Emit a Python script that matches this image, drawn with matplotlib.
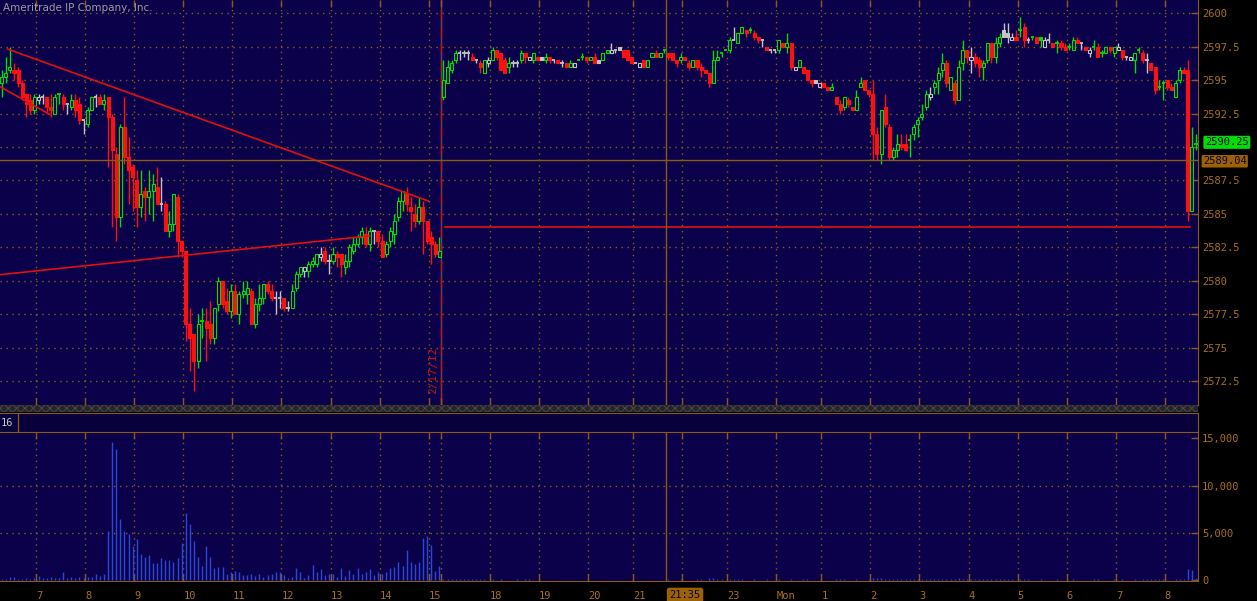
import numpy as np
import matplotlib.pyplot as plt
from matplotlib.patches import Rectangle

# ---- Friday 2/17/12, 5 min bars ----
fri_open = [2594.75, 2595.25, 2595.75, 2595.75, 2595.75, 2594.75, 2594.0, 2593.5, 2592.75, 2593.5,
            2593.75, 2593.75, 2593.0, 2592.5, 2594.0, 2593.75, 2593.25, 2593.0, 2593.5, 2593.25,
            2592.0, 2591.75, 2592.75, 2593.75, 2593.75, 2593.25, 2593.75, 2592.25, 2589.5, 2584.75,
            2591.5, 2589.25, 2588.5, 2587.5, 2585.5, 2586.75, 2586.25, 2586.75, 2587.0, 2585.75,
            2585.75, 2583.75, 2584.25, 2586.25, 2583.0, 2582.25, 2576.75, 2576.0, 2574.0, 2577.0,
            2577.0, 2576.75, 2575.75, 2578.25, 2580.0, 2578.5, 2577.75, 2579.25, 2577.5, 2579.0,
            2579.0, 2579.25, 2576.75, 2578.25, 2578.75, 2579.75, 2579.25, 2578.75, 2578.75, 2578.75,
            2578.0, 2578.0, 2579.5, 2580.5, 2580.75, 2580.75, 2581.25, 2581.25, 2581.75, 2582.25,
            2581.5, 2581.5, 2582.0, 2582.0, 2581.0, 2581.5, 2582.25, 2582.75, 2583.25, 2583.5,
            2582.75, 2583.75, 2583.75, 2583.0, 2582.0, 2583.0, 2583.5, 2584.75, 2586.0, 2586.5,
            2585.5, 2585.0, 2584.5, 2585.5, 2584.5, 2583.25, 2582.75, 2581.75]
fri_high = [2595.75, 2596.75, 2597.5, 2596.25, 2596.0, 2595.0, 2594.0, 2594.0, 2594.0, 2594.0,
            2594.0, 2593.75, 2594.0, 2594.0, 2594.0, 2594.0, 2593.25, 2594.0, 2594.0, 2593.75,
            2592.0, 2593.0, 2593.75, 2594.0, 2594.0, 2594.0, 2593.75, 2592.5, 2590.0, 2591.75,
            2593.75, 2590.75, 2588.75, 2588.25, 2588.25, 2587.0, 2588.25, 2588.0, 2588.5, 2587.75,
            2586.0, 2585.25, 2586.5, 2586.5, 2583.0, 2582.25, 2578.0, 2576.0, 2577.5, 2578.0,
            2578.0, 2578.5, 2578.0, 2580.25, 2580.0, 2579.5, 2579.75, 2579.75, 2579.25, 2580.0,
            2580.0, 2579.5, 2578.75, 2579.75, 2579.75, 2580.0, 2579.75, 2579.25, 2579.25, 2578.75,
            2578.5, 2579.75, 2580.75, 2581.0, 2581.0, 2581.5, 2581.75, 2582.0, 2582.5, 2582.5,
            2582.0, 2582.5, 2582.25, 2582.0, 2582.0, 2582.75, 2583.25, 2583.5, 2584.0, 2584.0,
            2584.0, 2583.75, 2583.75, 2583.5, 2583.0, 2584.0, 2585.0, 2586.25, 2586.75, 2587.0,
            2586.25, 2585.75, 2586.25, 2586.0, 2584.5, 2583.75, 2583.0, 2583.25]
fri_low = [2593.75, 2594.75, 2595.5, 2595.0, 2594.5, 2593.5, 2592.25, 2592.5, 2592.5, 2593.25,
           2593.25, 2592.5, 2592.25, 2592.5, 2593.25, 2592.75, 2592.5, 2592.75, 2592.25, 2591.75,
           2591.0, 2591.5, 2592.75, 2593.0, 2593.25, 2592.75, 2588.5, 2584.0, 2583.0, 2584.0,
           2588.75, 2585.75, 2585.25, 2584.0, 2584.75, 2584.5, 2585.0, 2584.5, 2585.75, 2585.25,
           2583.75, 2583.25, 2583.75, 2581.75, 2581.75, 2575.5, 2573.25, 2571.75, 2573.5, 2575.75,
           2574.0, 2575.25, 2575.25, 2577.75, 2578.0, 2577.5, 2577.25, 2577.5, 2576.75, 2578.75,
           2578.25, 2576.75, 2576.5, 2577.75, 2578.25, 2579.0, 2578.5, 2577.5, 2578.0, 2577.75,
           2577.75, 2578.0, 2579.25, 2580.25, 2580.25, 2580.25, 2581.0, 2581.0, 2581.5, 2581.25,
           2580.5, 2581.25, 2581.0, 2580.25, 2580.5, 2581.0, 2582.0, 2582.5, 2582.75, 2582.5,
           2582.25, 2582.75, 2582.5, 2581.75, 2581.75, 2582.5, 2582.75, 2584.5, 2585.25, 2585.25,
           2583.75, 2584.0, 2584.25, 2582.0, 2582.75, 2581.25, 2581.75, 2581.75]
fri_close = [2595.25, 2595.5, 2596.0, 2595.5, 2594.75, 2593.75, 2593.25, 2592.75, 2593.75, 2593.75,
             2593.75, 2593.0, 2592.75, 2593.75, 2594.0, 2593.25, 2593.25, 2593.5, 2592.75, 2592.0,
             2592.0, 2592.75, 2593.75, 2593.75, 2593.25, 2593.5, 2592.25, 2589.75, 2584.75, 2591.5,
             2589.25, 2588.25, 2587.75, 2585.5, 2586.5, 2586.25, 2586.75, 2587.25, 2585.75, 2585.75,
             2583.75, 2584.25, 2586.5, 2583.0, 2582.25, 2576.75, 2575.75, 2574.0, 2576.75, 2577.0,
             2576.5, 2575.75, 2578.0, 2580.0, 2578.25, 2577.75, 2579.25, 2577.5, 2579.0, 2579.25,
             2579.5, 2576.75, 2578.25, 2578.75, 2579.75, 2579.25, 2578.75, 2578.75, 2578.75, 2578.0,
             2578.0, 2579.25, 2580.5, 2581.0, 2581.0, 2581.25, 2581.5, 2582.0, 2582.0, 2581.5,
             2581.5, 2582.0, 2581.75, 2581.25, 2581.5, 2582.5, 2582.75, 2583.25, 2583.75, 2582.75,
             2583.75, 2583.75, 2583.0, 2581.75, 2582.75, 2583.75, 2584.5, 2586.0, 2586.75, 2585.75,
             2585.25, 2584.5, 2585.5, 2584.5, 2583.0, 2582.75, 2582.0, 2582.25]
fri_volume = [150, 150, 300, 350, 150, 100, 250, 150, 250, 470,
              250, 250, 350, 200, 250, 900, 250, 350, 250, 350,
              250, 300, 350, 690, 470, 690, 5240, 14580, 13810, 6510,
              5240, 4820, 3550, 4290, 2800, 2490, 2600, 1850, 1850, 2380,
              2170, 2170, 1960, 2380, 3970, 7140, 5980, 4080, 2490, 1530,
              3650, 2490, 1320, 1430, 1430, 690, 800, 1010, 800, 580,
              580, 690, 470, 690, 350, 580, 690, 800, 800, 580,
              250, 350, 1320, 900, 250, 580, 1640, 800, 1220, 580,
              690, 690, 350, 1320, 470, 1110, 690, 1320, 690, 900,
              1220, 580, 900, 690, 800, 1320, 1430, 1960, 1530, 3130,
              1960, 1750, 1960, 4500, 4610, 3760, 1010, 1530]

# ---- Sunday night / Monday session ----
sun_open = [2593.75, 2594.75, 2595.75, 2596.5, 2597.0, 2597.0, 2597.0, 2596.75, 2596.5, 2596.25,
            2595.5, 2596.25, 2596.5, 2597.25, 2597.0, 2596.5, 2596.0, 2596.25, 2596.25, 2596.5,
            2597.0, 2596.5, 2596.5, 2596.75, 2596.75, 2596.5, 2596.75, 2596.5, 2596.5, 2596.25,
            2596.25, 2596.0, 2596.0, 2596.5, 2596.75, 2596.75, 2596.5, 2596.75, 2596.5, 2596.5,
            2597.0, 2597.0, 2597.25, 2597.5, 2597.25, 2597.25, 2596.75, 2596.25, 2596.0, 2596.5,
            2596.0, 2596.75, 2597.0, 2596.75, 2597.25, 2597.0, 2597.0, 2596.5, 2596.5, 2596.75,
            2596.25, 2596.0, 2596.5, 2596.0, 2595.75, 2595.5, 2594.75, 2596.5, 2597.0, 2597.25,
            2597.25, 2598.0, 2597.75, 2598.5, 2598.75, 2598.75, 2598.5, 2598.25, 2598.0, 2597.5,
            2597.25, 2597.25, 2597.25, 2597.75, 2597.5, 2597.75, 2595.75, 2596.0, 2596.0, 2595.75,
            2595.0, 2595.0, 2594.5, 2594.75, 2594.5, 2594.25, 2593.75, 2593.25, 2593.0, 2593.5,
            2593.0, 2592.75, 2594.5, 2595.0, 2594.25, 2594.0, 2591.0, 2589.5, 2593.0, 2591.5,
            2589.25, 2589.75, 2590.25, 2590.25, 2590.5, 2591.0, 2591.75, 2592.25, 2593.0, 2593.75,
            2594.5, 2595.0, 2595.75, 2596.25, 2594.25, 2594.75, 2593.5, 2596.25, 2597.25, 2596.5,
            2596.75, 2596.5, 2596.0, 2596.5, 2597.75, 2596.75, 2597.75, 2598.75, 2598.5, 2598.0,
            2598.25, 2598.75, 2599.0, 2598.0, 2598.25, 2598.25, 2598.25, 2597.5, 2598.0, 2597.75,
            2597.75, 2597.75, 2597.5, 2597.5, 2597.25, 2598.0, 2597.75, 2597.5, 2597.0, 2597.5,
            2597.5, 2597.0, 2597.0, 2597.5, 2597.0, 2597.25, 2597.25, 2596.75, 2596.5, 2596.5,
            2597.25, 2597.0, 2596.5, 2596.25, 2596.0, 2594.5, 2594.75, 2595.0, 2594.5, 2593.75,
            2595.0, 2595.75, 2595.75, 2585.25, 2590.25]
sun_high = [2596.5, 2596.5, 2596.5, 2597.25, 2597.25, 2597.25, 2597.25, 2597.0, 2596.5, 2596.5,
            2596.5, 2596.75, 2597.5, 2597.25, 2597.0, 2596.75, 2596.75, 2596.5, 2596.5, 2597.25,
            2597.0, 2596.75, 2597.0, 2596.75, 2596.75, 2597.0, 2596.75, 2596.5, 2596.5, 2596.5,
            2596.25, 2596.5, 2596.25, 2596.5, 2597.0, 2596.75, 2596.75, 2597.0, 2596.5, 2597.0,
            2597.25, 2597.75, 2597.25, 2597.5, 2597.25, 2597.25, 2596.75, 2596.25, 2596.25, 2596.5,
            2596.5, 2597.0, 2597.25, 2597.0, 2597.25, 2597.0, 2597.0, 2596.5, 2597.0, 2596.75,
            2596.5, 2596.5, 2596.5, 2596.25, 2595.75, 2595.5, 2597.25, 2597.25, 2597.0, 2597.25,
            2598.25, 2599.0, 2598.5, 2599.0, 2598.75, 2599.0, 2598.75, 2598.25, 2598.0, 2597.5,
            2597.25, 2597.25, 2598.0, 2597.75, 2598.5, 2597.75, 2596.0, 2596.5, 2596.0, 2595.75,
            2595.0, 2595.0, 2594.75, 2594.75, 2594.5, 2594.75, 2593.75, 2593.5, 2593.75, 2593.75,
            2593.0, 2594.25, 2595.25, 2595.0, 2594.25, 2595.0, 2591.5, 2592.75, 2594.0, 2591.75,
            2590.0, 2591.0, 2591.0, 2591.0, 2591.0, 2591.75, 2592.25, 2593.25, 2594.25, 2594.5,
            2595.0, 2596.0, 2597.0, 2596.5, 2595.25, 2595.0, 2596.5, 2598.0, 2597.25, 2597.5,
            2597.0, 2596.75, 2596.5, 2597.75, 2597.75, 2598.25, 2598.5, 2599.25, 2599.25, 2598.5,
            2598.75, 2599.75, 2599.25, 2598.25, 2598.25, 2598.25, 2598.25, 2598.25, 2598.5, 2597.75,
            2598.0, 2598.0, 2597.75, 2597.75, 2598.25, 2598.25, 2597.75, 2597.5, 2597.5, 2598.0,
            2597.75, 2597.25, 2597.5, 2597.5, 2597.5, 2597.75, 2597.25, 2596.75, 2596.75, 2597.0,
            2597.5, 2597.25, 2597.0, 2596.25, 2596.0, 2595.0, 2595.0, 2595.0, 2594.75, 2595.0,
            2596.0, 2596.0, 2596.5, 2591.5, 2591.0]
sun_low = [2593.5, 2594.75, 2595.5, 2596.25, 2596.5, 2596.75, 2596.5, 2596.5, 2596.25, 2595.5,
           2595.5, 2596.0, 2596.5, 2596.5, 2595.75, 2595.5, 2595.5, 2596.0, 2596.0, 2596.25,
           2596.25, 2596.5, 2596.25, 2596.5, 2596.5, 2596.25, 2596.25, 2596.25, 2596.25, 2596.0,
           2596.0, 2596.0, 2596.0, 2596.5, 2596.5, 2596.25, 2596.5, 2596.25, 2596.25, 2596.5,
           2597.0, 2597.0, 2597.0, 2597.25, 2596.75, 2596.5, 2596.25, 2596.25, 2596.0, 2596.0,
           2596.0, 2596.75, 2596.75, 2596.75, 2597.0, 2596.5, 2596.5, 2596.0, 2596.25, 2596.5,
           2595.75, 2596.0, 2595.75, 2595.25, 2595.5, 2594.5, 2594.75, 2596.5, 2596.75, 2597.25,
           2597.0, 2598.0, 2597.75, 2598.5, 2598.25, 2598.5, 2598.0, 2597.75, 2597.5, 2597.25,
           2597.0, 2597.0, 2597.0, 2597.5, 2597.0, 2595.75, 2595.75, 2596.0, 2595.5, 2595.0,
           2594.5, 2594.75, 2594.5, 2594.5, 2594.25, 2594.25, 2593.25, 2592.5, 2592.75, 2593.0,
           2592.75, 2592.75, 2594.5, 2594.25, 2593.75, 2589.0, 2589.0, 2588.75, 2591.5, 2589.0,
           2589.0, 2589.25, 2589.75, 2589.75, 2589.25, 2590.5, 2590.75, 2592.0, 2592.75, 2593.5,
           2594.0, 2594.0, 2595.25, 2594.5, 2594.25, 2593.25, 2593.5, 2595.75, 2596.25, 2595.5,
           2596.0, 2595.25, 2595.0, 2596.25, 2596.25, 2596.25, 2597.5, 2598.25, 2597.75, 2598.0,
           2598.0, 2598.25, 2597.5, 2597.75, 2598.0, 2597.75, 2597.5, 2597.5, 2597.75, 2597.5,
           2597.0, 2597.25, 2597.25, 2597.25, 2597.25, 2597.75, 2597.25, 2597.25, 2596.75, 2597.25,
           2596.75, 2596.75, 2597.0, 2597.0, 2596.75, 2597.25, 2596.5, 2596.5, 2596.5, 2595.5,
           2597.0, 2596.25, 2595.5, 2595.75, 2594.0, 2594.25, 2593.5, 2594.25, 2594.25, 2593.75,
           2594.75, 2595.5, 2584.5, 2585.25, 2589.75]
sun_close = [2595.0, 2596.0, 2596.25, 2597.0, 2597.0, 2597.0, 2597.0, 2596.5, 2596.5, 2596.0,
             2596.5, 2596.5, 2597.25, 2596.75, 2595.75, 2595.5, 2596.25, 2596.25, 2596.25, 2597.0,
             2596.75, 2596.75, 2597.0, 2596.5, 2596.5, 2596.75, 2596.5, 2596.5, 2596.25, 2596.25,
             2596.0, 2596.25, 2596.25, 2596.5, 2596.75, 2596.5, 2596.75, 2596.25, 2596.25, 2597.0,
             2597.25, 2597.25, 2597.25, 2597.25, 2596.75, 2596.5, 2596.25, 2596.25, 2596.25, 2596.0,
             2596.5, 2597.0, 2596.75, 2597.0, 2597.25, 2596.75, 2596.5, 2596.25, 2596.75, 2596.5,
             2596.0, 2596.5, 2596.0, 2595.75, 2595.5, 2594.75, 2596.5, 2596.75, 2597.0, 2597.25,
             2598.0, 2598.0, 2598.5, 2599.0, 2598.5, 2598.75, 2598.25, 2598.0, 2598.0, 2597.25,
             2597.25, 2597.25, 2598.0, 2597.5, 2597.75, 2596.0, 2596.0, 2596.5, 2595.5, 2595.0,
             2594.75, 2594.75, 2594.75, 2594.5, 2594.25, 2594.5, 2593.25, 2592.75, 2593.75, 2593.25,
             2592.75, 2593.75, 2594.75, 2594.25, 2594.0, 2591.0, 2589.5, 2592.75, 2591.75, 2589.25,
             2589.75, 2590.25, 2590.0, 2589.75, 2590.5, 2591.5, 2592.0, 2592.5, 2594.0, 2594.0,
             2594.75, 2595.5, 2596.25, 2594.75, 2595.25, 2593.5, 2596.0, 2597.25, 2596.75, 2596.75,
             2596.25, 2596.0, 2596.25, 2597.75, 2596.75, 2597.75, 2598.25, 2598.25, 2598.25, 2598.25,
             2598.0, 2598.75, 2598.0, 2598.0, 2598.25, 2597.75, 2598.0, 2598.0, 2598.0, 2597.5,
             2597.75, 2597.5, 2597.25, 2597.5, 2598.0, 2597.75, 2597.75, 2597.25, 2597.25, 2597.5,
             2596.75, 2597.0, 2597.5, 2597.25, 2597.5, 2597.5, 2596.75, 2596.75, 2596.75, 2597.0,
             2597.25, 2596.5, 2596.5, 2595.75, 2594.25, 2594.5, 2594.75, 2594.5, 2594.25, 2594.75,
             2595.75, 2595.5, 2585.25, 2590.0, 2590.25]
sun_volume = [150, 150, 120, 100, 90, 110, 80, 130, 60, 90,
              70, 50, 80, 40, 60, 50, 40, 30, 60, 40,
              120, 60, 40, 30, 50, 40, 30, 20, 40, 30,
              20, 30, 40, 20, 30, 20, 40, 30, 20, 50,
              40, 30, 20, 30, 50, 40, 30, 20, 20, 40,
              30, 40, 50, 30, 20, 60, 40, 30, 60, 40,
              50, 40, 60, 70, 50, 180, 260, 90, 60, 40,
              80, 60, 70, 90, 50, 40, 60, 50, 40, 60,
              30, 40, 60, 50, 40, 120, 50, 40, 60, 70,
              50, 40, 30, 50, 40, 30, 90, 70, 60, 40,
              50, 60, 50, 40, 60, 230, 180, 210, 120, 150,
              90, 110, 80, 70, 100, 120, 90, 110, 140, 80,
              100, 120, 150, 130, 90, 110, 170, 120, 90, 80,
              100, 70, 90, 150, 120, 110, 90, 80, 70, 60,
              50, 80, 90, 60, 40, 50, 60, 40, 50, 40,
              60, 40, 50, 30, 70, 50, 40, 30, 40, 60,
              70, 40, 50, 40, 60, 40, 80, 50, 40, 90,
              50, 70, 60, 80, 130, 60, 70, 50, 40, 80,
              90, 70, 1160, 1050, 220]

# hour ticks (bar number) and labels; "22" sits under the cursor time box
hour_ticks = [8.4, 20.4, 32.4, 44.4, 56.4, 68.4, 80.4, 92.4, 104.4, 107.5,
              119.4, 131.4, 143.4, 154.4, 166.4, 177.4, 189.4, 200.4, 212.4,
              224.4, 236.4, 248.4, 260.4, 272.4, 284.4]
hour_labels = ['7', '8', '9', '10', '11', '12', '13', '14', '15', '',
               '18', '19', '20', '21', '', '23', 'Mon', '1', '2',
               '3', '4', '5', '6', '7', '8']
# 2590 is hidden behind the last price box
price_ticks = [2572.5, 2575, 2577.5, 2580, 2582.5, 2585, 2587.5, 2590, 2592.5, 2595, 2597.5, 2600]
price_labels = ['2572.5', '2575', '2577.5', '2580', '2582.5', '2585', '2587.5', '',
                '2592.5', '2595', '2597.5', '2600']
volume_ticks = [0, 5000, 10000, 15000]

session_break = 107.5
# drawings: (bar1, price1, bar2, price2)
trend_lines = [(1.4, 2597.33, 104.3, 2585.97),
               (-0.4, 2580.46, 90.0, 2583.36),
               (-0.4, 2594.51, 11.8, 2592.43),
               (108.3, 2584.03, 290.5, 2584.03)]
cursor_bar = 162.4
cursor_price = 2589.04
cursor_time = '21:35'
last_price = 2590.25

BG = '#0b004a'
BROWN = '#8b5a1a'
TXT = '#a8701e'
GRIDC = '#8a5e1c'
UP, DN, FLAT = '#00e000', '#ff1010', '#c4c4c4'

plt.rcParams['font.family'] = ['DejaVu Sans Mono', 'DejaVu Sans']
plt.rcParams['hatch.linewidth'] = 0.6

o = np.array(fri_open + sun_open)
h = np.array(fri_high + sun_high)
l = np.array(fri_low + sun_low)
c = np.array(fri_close + sun_close)
vol = np.array(fri_volume + sun_volume)
x = np.arange(len(c))
prev = np.r_[o[0], c[:-1]]
col = np.where(c > prev, UP, np.where(c < prev, DN, FLAT))

W, H = 1257, 601
fig = plt.figure(figsize=(W / 100, H / 100), dpi=100, facecolor='black')
ax = fig.add_axes([0, 1 - 405 / H, 1198 / W, 405 / H], facecolor=BG)
band = fig.add_axes([0, 1 - 412 / H, 1198 / W, 7 / H], facecolor='#262626')
head = fig.add_axes([0, 1 - 432 / H, 1198 / W, 19 / H], facecolor='#07003a')
axv = fig.add_axes([0, 1 - 581 / H, 1198 / W, 149 / H], facecolor=BG)

xlim = (-0.42, 292.5)
grid_kw = dict(color=GRIDC, lw=1.0, ls=(0, (1, 3.3)), zorder=0.5)

# ---- price pane ----
ax.set_xlim(*xlim)
ax.set_ylim(2570.72, 2600.99)
for t in hour_ticks:
    if t != session_break:
        ax.axvline(t, **grid_kw)
for p in price_ticks:
    ax.axhline(p, **grid_kw)

ax.vlines(x, l, h, colors=col, lw=1.0, zorder=2)
body = c != o
hollow = c > o
face = np.where(hollow, BG, col)
ax.bar(x[body], np.abs(c - o)[body], bottom=np.minimum(o, c)[body], width=0.74,
       color=face[body], edgecolor=col[body], linewidth=0.8, zorder=3)
ax.hlines(c[~body], x[~body] - 0.4, x[~body] + 0.4, colors=col[~body], lw=1.3, zorder=3)

for x1, y1, x2, y2 in trend_lines:
    ax.plot([x1, x2], [y1, y2], color='#e01010', lw=1.2, zorder=4)

ax.axvline(session_break, color='#4a5078', lw=1.0, zorder=1)
ax.axvline(session_break, color='#c81010', lw=1.0, ls=(0, (9, 3)), zorder=1.5)
ax.text(105.45, 2573.3, '2/17/12', rotation=90, color='#b81818', fontsize=8,
        ha='center', va='center', zorder=5)

ax.axvline(cursor_bar, color=BROWN, lw=1.0, zorder=4)
ax.axhline(cursor_price, color=BROWN, lw=1.0, zorder=4)

ax.yaxis.tick_right()
ax.set_yticks(price_ticks)
ax.set_yticklabels(price_labels)
ax.tick_params(axis='y', direction='in', length=5, width=1, color=BROWN,
               labelcolor=TXT, labelsize=7.5, pad=3)
ax.set_xticks(hour_ticks)
ax.tick_params(axis='x', direction='in', length=5, width=1, color=BROWN,
               top=True, bottom=True, labelbottom=False)
for s in ['left', 'top']:
    ax.spines[s].set_visible(False)
for s in ['right', 'bottom']:
    ax.spines[s].set_color(BROWN)

ax.annotate(f'{last_price:.2f}', xy=(1, last_price), xycoords=('axes fraction', 'data'),
            xytext=(5, 1.0), textcoords='offset points', ha='left', va='center',
            fontsize=7.5, color='#0a0040', annotation_clip=False,
            bbox=dict(boxstyle='round,pad=0.15', fc='#00dd00', ec='none'))
ax.annotate(f'{cursor_price:.2f}', xy=(1, cursor_price), xycoords=('axes fraction', 'data'),
            xytext=(3.5, -1.0), textcoords='offset points', ha='left', va='center',
            fontsize=7.5, color='#0a0040', annotation_clip=False,
            bbox=dict(boxstyle='round,pad=0.12', fc='#9c6200', ec='none'))

# ---- separator band and header ----
for a in (band, head):
    a.set_xticks([])
    a.set_yticks([])
    a.set_xlim(0, 1)
    a.set_ylim(0, 1)
    for s in a.spines.values():
        s.set_visible(False)
band.add_patch(Rectangle((0, 0), 1, 1, facecolor='none', edgecolor='#4e4e4e',
                         hatch='xxxx', lw=0))
head.spines['top'].set_visible(True)
head.spines['top'].set_color(BROWN)
head.spines['right'].set_visible(True)
head.spines['right'].set_color(BROWN)
head.axvline(18 / 1198, color=BROWN, lw=1)
head.text(1 / 1198, 0.5, '16', color='#c8c8c8', fontsize=7.5, ha='left', va='center')

# ---- volume pane ----
axv.set_xlim(*xlim)
axv.set_ylim(-100, 15660)
for t in hour_ticks:
    axv.axvline(t, **grid_kw)
for v in volume_ticks[1:3]:
    axv.axhline(v, **grid_kw)
axv.vlines(x, 0, vol, colors='#2a48d8', lw=1.0, zorder=2)
axv.axvline(cursor_bar, color=BROWN, lw=1.0, zorder=4)

axv.yaxis.tick_right()
axv.set_yticks(volume_ticks)
axv.set_yticklabels([f'{v:,}' for v in volume_ticks])
axv.tick_params(axis='y', direction='in', length=5, width=1, color=BROWN,
                labelcolor=TXT, labelsize=7.5, pad=3)
axv.set_xticks(hour_ticks)
axv.set_xticklabels(hour_labels)
axv.tick_params(axis='x', direction='in', length=5, width=1, color=BROWN,
                top=True, bottom=True, labelcolor=TXT, labelsize=7.5, pad=7.5)
for lbl in axv.get_xticklabels():
    lbl.set_ha('left')
axv.spines['left'].set_visible(False)
for s in ['right', 'bottom', 'top']:
    axv.spines[s].set_color(BROWN)

axv.annotate(cursor_time, xy=(cursor_bar, 0), xycoords=('data', 'axes fraction'),
             xytext=(2.5, -10.3), textcoords='offset points', ha='left', va='center',
             fontsize=7.5, color='#0a0040', annotation_clip=False,
             bbox=dict(boxstyle='round,pad=0.25', fc='#9c6200', ec='none'))

fig.text(3 / W, 1 - 8 / H, 'Ameritrade IP Company, Inc.', color='#9c9c9c',
         fontsize=7.5, family='DejaVu Sans', ha='left', va='center')

fig.savefig('out.png', dpi=100, facecolor='black')
